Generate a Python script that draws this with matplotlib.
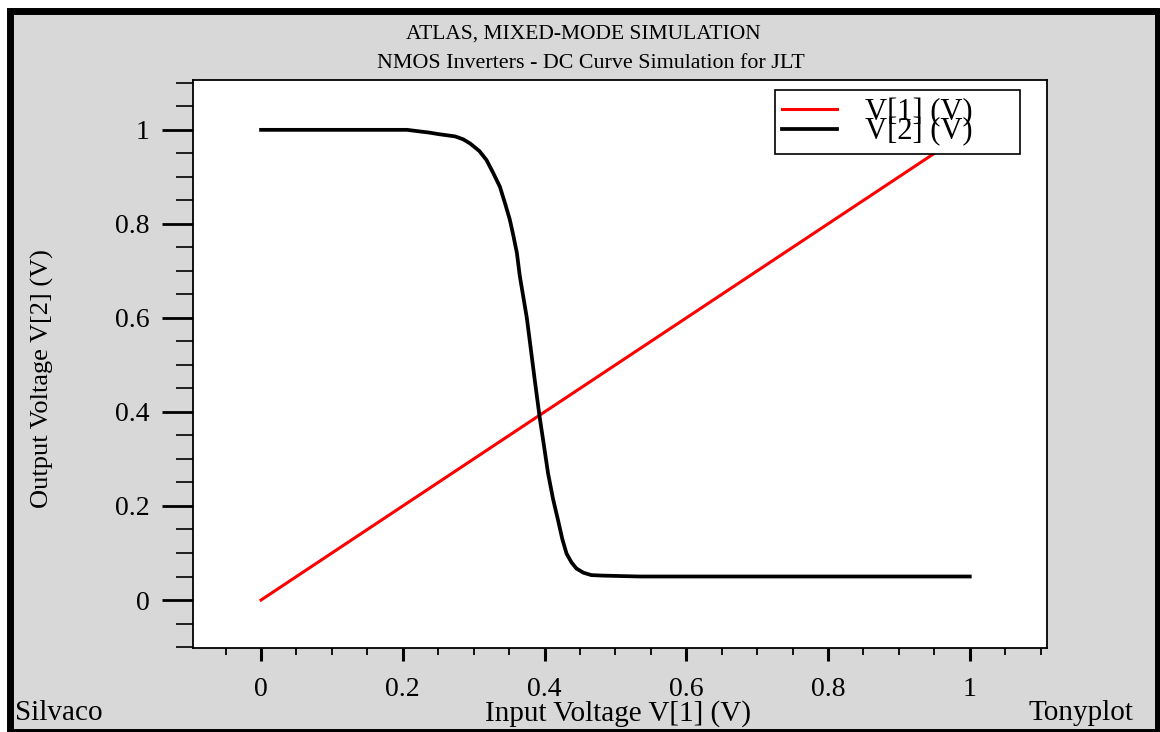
import numpy as np
import matplotlib
matplotlib.use("Agg")
import matplotlib.pyplot as plt
from matplotlib.patches import Rectangle
from matplotlib.ticker import MultipleLocator

plt.rcParams['font.family'] = ['Liberation Serif', 'DejaVu Serif']

# DC sweep of the input node
v_in = [0.0, 0.1, 0.2, 0.3, 0.4, 0.5, 0.6, 0.7, 0.8, 0.9, 1.0]
v1 = [0.0, 0.1, 0.2, 0.3, 0.4, 0.5, 0.6, 0.7, 0.8, 0.9, 1.0]

# inverter output V[2] against V[1]
v_in2 = [0.0, 0.10, 0.206, 0.238, 0.250, 0.274, 0.285, 0.295, 0.308, 0.318,
         0.327, 0.337, 0.344, 0.351, 0.356, 0.361, 0.365, 0.370, 0.375,
         0.379, 0.386, 0.393, 0.399, 0.405, 0.412, 0.419, 0.425, 0.431,
         0.438, 0.445, 0.455, 0.466, 0.480, 0.506, 0.535, 0.70, 0.85, 1.0]
v2 = [1.0, 1.0, 1.0, 0.994, 0.991, 0.986, 0.980, 0.971, 0.955, 0.936,
      0.910, 0.879, 0.845, 0.809, 0.775, 0.738, 0.690, 0.645, 0.600,
      0.553, 0.470, 0.390, 0.330, 0.269, 0.215, 0.170, 0.130, 0.099,
      0.080, 0.067, 0.058, 0.053, 0.052, 0.051, 0.050, 0.050, 0.050, 0.050]

fig = plt.figure(figsize=(11.6, 7.32), dpi=100)
fig.patch.set_facecolor('white')
fig.patches.append(Rectangle((0.0085, 0.0), 0.99, 0.985, transform=fig.transFigure,
                             facecolor='#d8d8d8', edgecolor='black', linewidth=5,
                             zorder=-10))

ax = fig.add_axes([0.1664, 0.1148, 0.7362, 0.7759])
ax.set_facecolor('white')

ax.plot(v_in, v1, color='#ff0000', lw=2.2, label='V[1] (V)')
ax.plot(v_in2, v2, color='black', lw=2.7, label='V[2] (V)',
        solid_joinstyle='round')

ax.set_xlim(-0.096, 1.109)
ax.set_ylim(-0.102, 1.106)
ax.xaxis.set_major_locator(MultipleLocator(0.2))
ax.xaxis.set_minor_locator(MultipleLocator(0.05))
ax.yaxis.set_major_locator(MultipleLocator(0.2))
ax.yaxis.set_minor_locator(MultipleLocator(0.05))
ax.xaxis.set_major_formatter(plt.FuncFormatter(lambda v, p: f'{v:g}'))
ax.yaxis.set_major_formatter(plt.FuncFormatter(lambda v, p: f'{v:g}'))

ax.tick_params(axis='x', which='major', direction='out', length=9, width=2.2,
               labelsize=20, pad=12)
ax.tick_params(axis='x', which='minor', direction='out', length=5, width=1.3)
ax.tick_params(axis='y', which='major', direction='out', length=22, width=2,
               labelsize=20, pad=9)
ax.tick_params(axis='y', which='minor', direction='out', length=12, width=1.2)
for s in ax.spines.values():
    s.set_linewidth(1.3)

ax.set_xlabel('Input Voltage V[1] (V)', fontsize=21)
ax.xaxis.label.set_va('center')
ax.xaxis.set_label_coords(0.498, -0.115)
ax.set_ylabel('Output Voltage V[2] (V)', fontsize=19)
ax.yaxis.label.set_va('center')
ax.yaxis.set_label_coords(-0.176, 0.475)

fig.text(0.503, 0.954, 'ATLAS, MIXED-MODE SIMULATION', ha='center', va='center',
         fontsize=15.5)
fig.text(0.509, 0.913, 'NMOS Inverters - DC Curve Simulation for JLT',
         ha='center', va='center', fontsize=15.8)
fig.text(0.013, 0.017, 'Silvaco', ha='left', va='baseline', fontsize=21)
fig.text(0.977, 0.017, 'Tonyplot', ha='right', va='baseline', fontsize=21)

leg = ax.legend(loc='upper left', bbox_to_anchor=(0.6815, 0.982, 0.2865, 0.0),
                mode='expand', borderaxespad=0, fontsize=22, handlelength=1.8,
                handletextpad=0.9, labelspacing=-0.32, borderpad=0.24,
                fancybox=False, framealpha=1, edgecolor='black')
leg.get_frame().set_linewidth(1.2)
leg.set_zorder(5)

fig.savefig('out.png', dpi=100)
